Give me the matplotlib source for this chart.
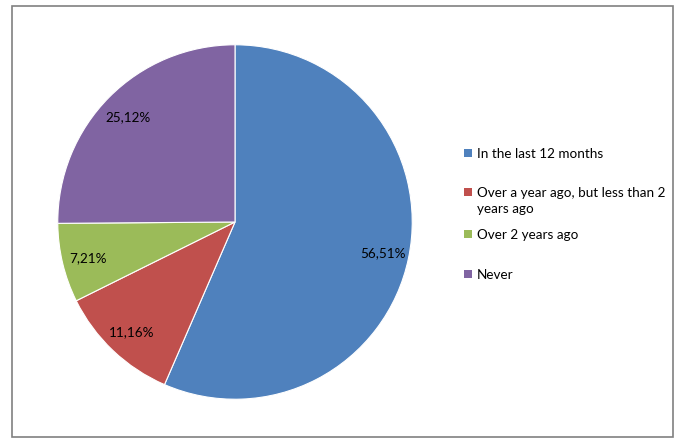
import matplotlib
matplotlib.use("Agg")
import matplotlib.pyplot as plt
from matplotlib.patches import Rectangle

categories = ["In the last 12 months",
              "Over a year ago, but less than 2\nyears ago",
              "Over 2 years ago",
              "Never"]
values = [56.51, 11.16, 7.21, 25.12]
colors = ["#4F81BD", "#C0504D", "#9BBB59", "#8064A2"]

plt.rcParams['font.family'] = ['Lato', 'DejaVu Sans']

fig = plt.figure(figsize=(6.77, 4.39), dpi=100)
W, H = 677, 439

# cadre gris autour du graphique
fig.patches.append(Rectangle((12 / W, 1 / H), 661 / W, 431 / H, transform=fig.transFigure,
                             fill=False, edgecolor="#808080", linewidth=1.2))

ax = fig.add_axes([56 / W, 37 / H, 358 / W, 358 / H])
wedges, texts, autotexts = ax.pie(
    values, colors=colors, startangle=90, counterclock=False,
    autopct=lambda p: f"{p:.2f}%".replace(".", ","), pctdistance=0.85,
    wedgeprops=dict(edgecolor="white", linewidth=0.8),
    textprops=dict(fontsize=9.7, color="black"))
ax.set_xlim(-1.01, 1.01)
ax.set_ylim(-1.01, 1.01)
ax.set_aspect("equal")

# légende à la main (position des lignes comme dans Excel)
leg_y = [154, 193, 235, 275]
for cat, col, y in zip(categories, colors, leg_y):
    fig.patches.append(Rectangle((464 / W, 1 - (y + 4) / H), 8 / W, 8 / H,
                                 transform=fig.transFigure, facecolor=col, edgecolor="none"))
    # le texte sur deux lignes commence en haut, aligné sur le carré
    fig.text(477 / W, 1 - (y - 6) / H, cat, fontsize=9.7, va="top", ha="left",
             linespacing=1.45)

fig.savefig("out.png", dpi=100)
